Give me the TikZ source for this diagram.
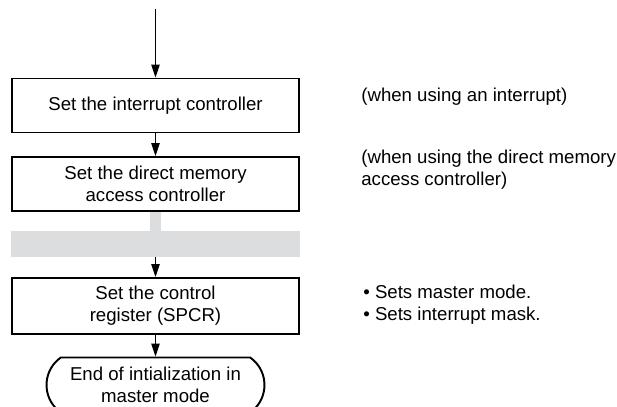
\documentclass[tikz,border=0pt]{standalone}
\usepackage{fontspec}
\setmainfont{Liberation Sans}
\usepackage{tikz}
\usetikzlibrary{arrows.meta, positioning, shapes.misc}

\definecolor{bandgray}{RGB}{220,221,223}

\tikzset{
  procbox/.style={draw, line width=1.1pt, minimum width=5.74cm, minimum height=1.08cm, align=center, inner sep=0pt},
  endbox/.style={draw, line width=1.1pt, rounded rectangle, rounded rectangle arc length=110, minimum width=4.36cm, minimum height=1.1cm, align=center, inner sep=0pt},
  notetext/.style={anchor=west, align=left, inner sep=0pt},
  flow/.style={line width=0.6pt, -{Triangle[length=2.6mm, width=1.7mm]}}
}

\begin{document}
\begin{tikzpicture}[font=\fontsize{10.6}{12.4}\selectfont]
			% Frame:
			\clip (0, 0) rectangle (12.34, 8.14);
			% Flow boxes:
			\coordinate (start) at (3.11, 7.96);
			\node[procbox] (intc) at (3.11, 6.03){Set the interrupt controller};
			\node[procbox] (dmac) at (3.11, 4.46){Set the direct memory\\access controller};
			\node[fill=bandgray, minimum width=5.78cm, minimum height=0.52cm, inner sep=0pt] (band) at (3.11, 3.26){};
			\node[procbox, minimum height=1.12cm] (spcr) at (3.11, 2.02){Set the control\\register (SPCR)};
			\node[endbox] (fin) at (3.11, 0.44){End of intialization in\\master mode};
			% Connectors:
			\draw[flow] (start) -- (intc.north);
			\draw[flow] (intc.south) -- (dmac.north);
			\draw[bandgray, line width=0.22cm] (dmac.south) -- (band.north);
			\draw[flow] (band.south) -- (spcr.north);
			\draw[flow] (spcr.south) -- (fin.north);
			% Notes:
			\node[notetext] (intcnote) at (7.22, 6.2){(when using an interrupt)};
			\node[notetext] (dmacnote) at (7.22, 4.74){(when using the direct memory\\access controller)};
			\node[notetext] (spcrnote) at (7.26, 2.04){\textbullet{} Sets master mode.\\\textbullet{} Sets interrupt mask.};
		\end{tikzpicture}
\end{document}
